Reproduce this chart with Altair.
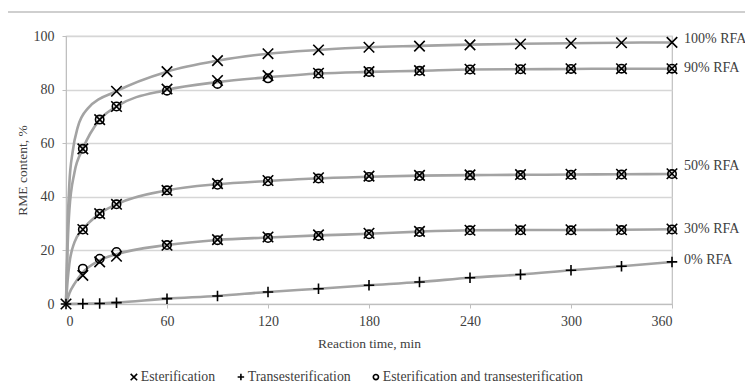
import altair as alt
import pandas as pd

# ---------------- data ----------------
t_100 = [0, 30, 60, 90, 120, 150, 180, 210, 240, 270, 300, 330, 360]
est_100 = [0, 79.4, 86.7, 90.8, 93.4, 94.8, 95.8, 96.2, 96.7, 97.0, 97.3, 97.5, 97.6]

t_mix = [10, 20, 30, 60, 90, 120, 150, 180, 210, 240, 270, 300, 330, 360]
est_90 = [57.9, 68.8, 73.7, 80.2, 83.4, 85.2, 86.1, 86.7, 87.1, 87.6, 87.7, 87.8, 87.8, 87.8]
both_90 = [57.9, 68.8, 73.7, 79.6, 82.1, 84.2, 86.0, 86.6, 87.0, 87.5, 87.6, 87.7, 87.8, 87.8]
est_50 = [27.8, 33.7, 37.2, 42.4, 44.9, 46.1, 47.1, 47.7, 48.0, 48.2, 48.3, 48.4, 48.4, 48.6]
both_50 = [27.8, 33.7, 37.2, 42.4, 44.5, 45.8, 46.8, 47.4, 47.8, 48.0, 48.1, 48.2, 48.3, 48.5]
est_30 = [10.7, 15.7, 17.8, 21.9, 24.0, 25.0, 25.8, 26.4, 27.1, 27.5, 27.7, 27.7, 27.7, 28.0]
both_30 = [13.2, 16.9, 19.4, 22.0, 23.8, 24.6, 25.4, 26.0, 26.9, 27.5, 27.5, 27.5, 27.6, 27.8]

t_0 = [0, 10, 20, 30, 60, 90, 120, 150, 180, 210, 240, 270, 300, 330, 360]
trans_0 = [0, 0.1, 0.2, 0.5, 2.0, 3.0, 4.5, 5.7, 7.0, 8.2, 9.8, 11.0, 12.6, 14.1, 15.7]

# fitted (smooth grey) curves
curve_t_100 = [0, 1, 2, 4, 7, 13, 30, 60, 90, 120, 150, 180, 210, 240, 270, 300, 330, 360]
curve_100 = [0, 30, 45, 57, 66, 73, 79.4, 86.7, 90.8, 93.4, 94.8, 95.8, 96.3, 96.8, 97.1, 97.3, 97.5, 97.6]
curve_t = [0, 1, 2, 5, 10, 20, 30, 60, 90, 120, 150, 180, 210, 240, 270, 300, 330, 360]
curve_90 = [0, 22, 35, 49, 57.9, 68.8, 73.7, 79.9, 82.8, 84.6, 86.0, 86.6, 87.0, 87.5, 87.6, 87.7, 87.8, 87.8]
curve_50 = [0, 9, 15, 23, 27.8, 33.7, 37.2, 42.4, 44.7, 45.9, 46.9, 47.5, 47.9, 48.1, 48.2, 48.3, 48.4, 48.5]
curve_30 = [0, 2, 4, 7.5, 11.8, 16.3, 18.6, 22.0, 23.9, 24.8, 25.6, 26.2, 27.0, 27.5, 27.6, 27.6, 27.7, 27.9]
curve_t_0 = t_0
curve_0 = trans_0

series_labels = ["100% RFA", "90% RFA", "50% RFA", "30% RFA", "0% RFA"]
label_y = [98.8, 88.0, 51.4, 28.1, 16.3]

processes = ["Esterification", "Transesterification", "Esterification and transesterification"]
x_ticks = [0, 60, 120, 180, 240, 300, 360]
y_ticks = [0, 20, 40, 60, 80, 100]

# ---------------- tables ----------------
rows = []
def add(ts, vs, rfa, proc):
    for t, v in zip(ts, vs):
        rows.append({"t": t, "v": v, "rfa": rfa, "process": proc})

add(t_100, est_100, "100% RFA", processes[0])
add(t_mix, est_90, "90% RFA", processes[0])
add(t_mix, both_90, "90% RFA", processes[2])
add(t_mix, est_50, "50% RFA", processes[0])
add(t_mix, both_50, "50% RFA", processes[2])
add(t_mix, est_30, "30% RFA", processes[0])
add(t_mix, both_30, "30% RFA", processes[2])
add(t_0, trans_0, "0% RFA", processes[1])
points = pd.DataFrame(rows)

crow = []
for name, ts, vs in [("100% RFA", curve_t_100, curve_100), ("90% RFA", curve_t, curve_90),
                     ("50% RFA", curve_t, curve_50), ("30% RFA", curve_t, curve_30),
                     ("0% RFA", curve_t_0, curve_0)]:
    for t, v in zip(ts, vs):
        crow.append({"t": t, "v": v, "rfa": name})
curves = pd.DataFrame(crow)

labels = pd.DataFrame({"t": [360] * len(series_labels), "v": label_y, "label": series_labels})

FONT = "Liberation Serif, Times New Roman, serif"
TXT = "#404040"

xs = alt.Scale(domain=[0, 360], nice=False)
ys = alt.Scale(domain=[0, 100], nice=False)

x_enc = alt.X("t:Q", scale=xs, title="Reaction time, min",
              axis=alt.Axis(values=x_ticks, grid=False, tickSize=4, tickColor="#bfbfbf",
                            domainColor="#bfbfbf", labelPadding=6, titlePadding=8,
                            labelFont=FONT, labelFontSize=14, labelColor=TXT,
                            titleFont=FONT, titleFontSize=13.5, titleFontWeight="normal",
                            titleColor=TXT))
y_enc = alt.Y("v:Q", scale=ys, title="RME content, %",
              axis=alt.Axis(values=y_ticks, grid=True, gridColor="#d6d6d6", gridWidth=1.5,
                            tickSize=4, tickColor="#bfbfbf", domainColor="#bfbfbf",
                            labelPadding=8, titlePadding=4,
                            labelFont=FONT, labelFontSize=14, labelColor=TXT,
                            titleFont=FONT, titleFontSize=13.5, titleFontWeight="normal",
                            titleColor=TXT))

top_line = alt.Chart(pd.DataFrame({"a": [0]})).mark_rule(color="#cfcfcf", strokeWidth=2, clip=False).encode(
    x=alt.value(-58), x2=alt.value(679), y=alt.value(-24))

lines = alt.Chart(curves).mark_line(color="#a3a3a3", strokeWidth=2.6, interpolate="monotone").encode(
    x=x_enc, y=y_enc, detail="rfa:N")

X_PATH = "M-1,-1L1,1M-1,1L1,-1"
P_PATH = "M-1,0L1,0M0,-1L0,1"
O_PATH = "M0.8,0A0.8,0.8,0,1,1,-0.8,0A0.8,0.8,0,1,1,0.8,0Z"

pts = alt.Chart(points).mark_point(filled=False, color="black", strokeWidth=1.6, size=110, opacity=1).encode(
    x="t:Q", y="v:Q",
    shape=alt.Shape("process:N",
                    scale=alt.Scale(domain=processes, range=[X_PATH, P_PATH, O_PATH]),
                    legend=alt.Legend(title=None, orient="none", direction="horizontal",
                                      legendX=61, legendY=334, symbolSize=42,
                                      symbolStrokeColor="black", symbolStrokeWidth=1.6,
                                      symbolFillColor="transparent",
                                      labelFont=FONT, labelFontSize=13.8, labelColor=TXT,
                                      labelLimit=0, labelOffset=0, columnPadding=18, padding=0)))

txt = alt.Chart(labels).mark_text(align="left", baseline="middle", dx=12, font=FONT,
                                   fontSize=14, color=TXT).encode(
    x="t:Q", y="v:Q", text="label:N")

chart = alt.layer(top_line, lines, pts, txt).properties(
    width=606, height=268,
    autosize=alt.AutoSizeParams(type="none"),
    padding={"left": 58, "top": 28, "right": 73, "bottom": 80},
).configure(background="white", font=FONT).configure_view(
    stroke="#bfbfbf", strokeWidth=1.2
).configure_legend(labelFont=FONT, labelLimit=0)

chart.save("out.html", embed_options={"renderer": "svg", "actions": False})
